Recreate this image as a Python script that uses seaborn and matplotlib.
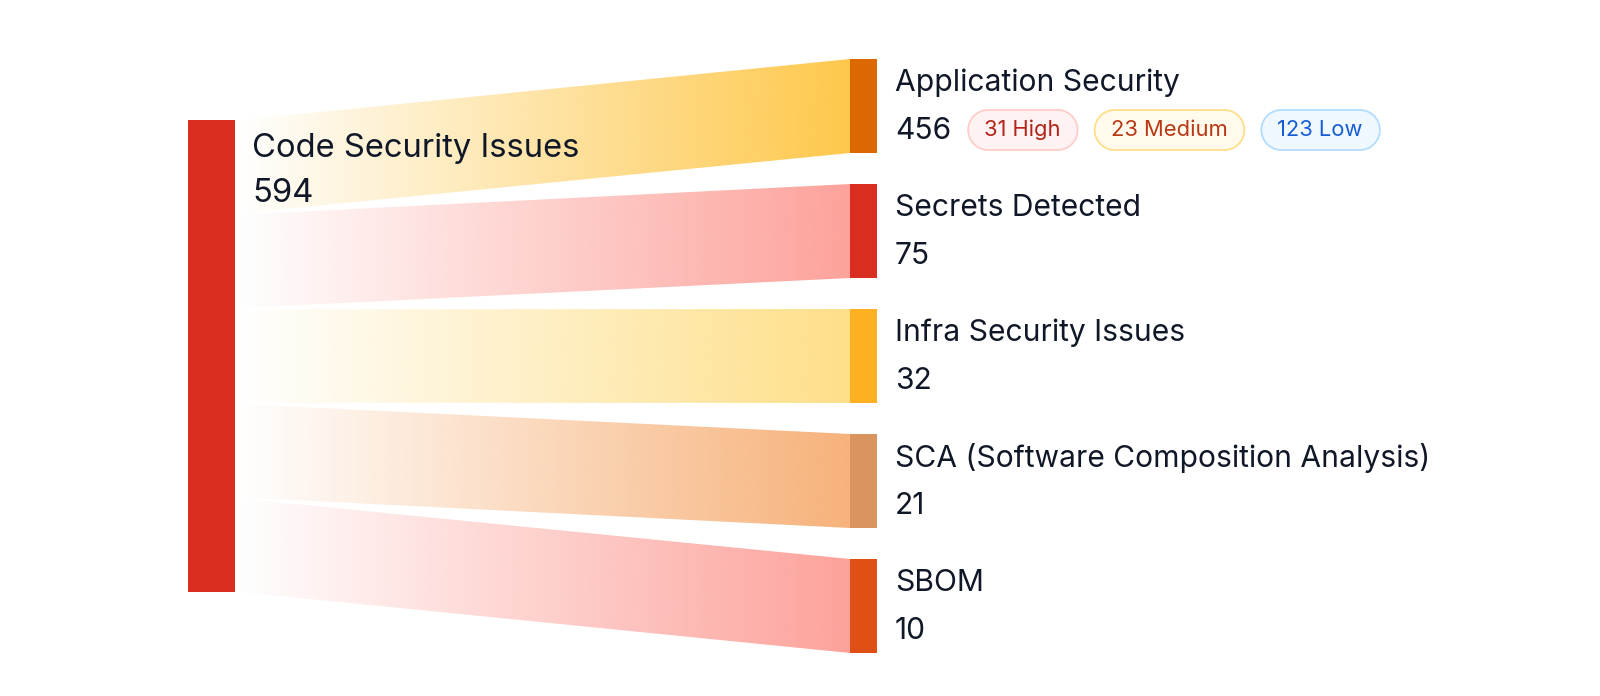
import numpy as np
import matplotlib
matplotlib.use("Agg")
import matplotlib.pyplot as plt
import seaborn as sns
from matplotlib.patches import Rectangle, Polygon
from matplotlib.colors import to_rgb

# ---------------- data ----------------
source_label = "Code Security Issues"
source_total = 594
target_labels = ["Application Security", "Secrets Detected", "Infra Security Issues",
                 "SCA (Software Composition Analysis)", "SBOM"]
target_values = [456, 75, 32, 21, 10]
severity_labels = ["High", "Medium", "Low"]
severity_counts = [31, 23, 123]

# ---------------- style ----------------
source_color = "#D92D20"
node_colors = ["#DC6803", "#D92D20", "#FDB022", "#D9955F", "#E04F16"]
flow_colors = ["#FEC84B", "#FDA29B", "#FEDF89", "#F7B27A", "#FDA29B"]
pill_fill = ["#FEF3F2", "#FFFAEB", "#EFF8FF"]
pill_edge = ["#FECDCA", "#FEDF89", "#B2DDFF"]
pill_text = ["#B42318", "#B93815", "#175CD3"]
text_color = "#101828"

sns.set_theme(style="white")
plt.rcParams['font.family'] = ['Inter', 'DejaVu Sans']

W, H = 1600, 696
fig = plt.figure(figsize=(W / 100, H / 100), dpi=100)
ax = fig.add_axes([0, 0, 1, 1])
ax.set_xlim(0, W)
ax.set_ylim(H, 0)
ax.axis("off")

# layout (pixels)
left_x0, left_w = 188, 47
left_top, left_bottom = 120, 592
right_x0, right_w = 850, 27
right_top, node_h, node_pitch = 59, 94, 125
label_fs, source_fs, pill_fs = 21.6, 23.6, 15.8


def pill_outline(x0, x1, yc, rad, m=40):
    a = np.linspace(np.pi / 2, 3 * np.pi / 2, m)
    left = np.column_stack([x0 + rad + rad * np.cos(a), yc - rad * np.sin(a)])
    b = np.linspace(-np.pi / 2, np.pi / 2, m)
    right = np.column_stack([x1 - rad + rad * np.cos(b), yc - rad * np.sin(b)])
    return np.vstack([left, right])


n = len(target_labels)
seg = (left_bottom - left_top) / n

# source node
ax.add_patch(Rectangle((left_x0, left_top), left_w, left_bottom - left_top,
                       facecolor=source_color, edgecolor="none", zorder=3))

fig.canvas.draw()
r = fig.canvas.get_renderer()

fx0 = left_x0 + left_w
fx1 = right_x0
for i in range(n):
    ly0 = left_top + i * seg + 0.5
    ly1 = left_top + (i + 1) * seg - 0.5
    ry0 = right_top + i * node_pitch
    ry1 = ry0 + node_h
    poly = Polygon([(fx0, ly0), (fx1, ry0), (fx1, ry1), (fx0, ly1)], closed=True,
                   facecolor="none", edgecolor="none")
    ax.add_patch(poly)
    rgb = np.array(to_rgb(flow_colors[i]))
    ramp = np.linspace(0, 1, 256)
    img = np.zeros((2, 256, 4))
    img[..., :3] = rgb
    img[..., 3] = ramp[None, :]
    ymin, ymax = min(ly0, ry0), max(ly1, ry1)
    im = ax.imshow(img, extent=(fx0, fx1, ymax, ymin), aspect="auto",
                   interpolation="bilinear", zorder=1)
    im.set_clip_path(poly)
    # target node
    ax.add_patch(Rectangle((right_x0, ry0), right_w, node_h,
                           facecolor=node_colors[i], edgecolor="none", zorder=3))
    cy = ry0 + node_h / 2
    ax.text(895, cy - 23, target_labels[i], fontsize=label_fs, color=text_color,
            va="center", ha="left", zorder=4)
    vt = ax.text(895, cy + 25, str(target_values[i]), fontsize=label_fs, color=text_color,
                 va="center", ha="left", zorder=4)
    if i == 0:
        bb = vt.get_window_extent(r).transformed(ax.transData.inverted())
        x = max(bb.x0, bb.x1) + 17
        ph = 40
        rad = ph / 2
        pcy = cy + 24
        for k in range(len(severity_labels)):
            t = ax.text(x + 16, pcy, f"{severity_counts[k]} {severity_labels[k]}",
                        fontsize=pill_fs, color=pill_text[k], va="center", ha="left", zorder=5)
            tb = t.get_window_extent(r).transformed(ax.transData.inverted())
            pw = abs(tb.x1 - tb.x0) + 33
            ax.add_patch(Polygon(pill_outline(x, x + pw, pcy, rad), closed=True,
                                 facecolor=pill_fill[k], edgecolor=pill_edge[k],
                                 linewidth=1.3, zorder=4))
            x += pw + 17

ax.text(252, 148, source_label, fontsize=source_fs, color=text_color, va="center", ha="left", zorder=4)
ax.text(252, 193, str(source_total), fontsize=source_fs, color=text_color, va="center", ha="left", zorder=4)

fig.savefig("out.png", dpi=100, facecolor="white")
